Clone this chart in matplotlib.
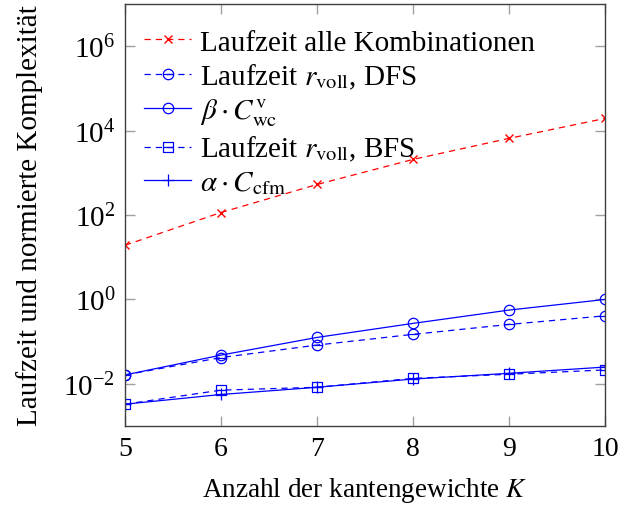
import numpy as np
import matplotlib
matplotlib.use('Agg')
import matplotlib.pyplot as plt
from matplotlib.path import Path

plt.rcParams['font.family'] = 'serif'
plt.rcParams['font.serif'] = ['Liberation Serif', 'DejaVu Serif']
plt.rcParams['mathtext.fontset'] = 'stix'
plt.rcParams['font.size'] = 20

# Anzahl der Kantengewichte
K = [5, 6, 7, 8, 9, 10]

# Laufzeiten und normierte Komplexitaeten
laufzeit_alle = [19.2, 115, 530, 2080, 6560, 19500]
laufzeit_dfs = [0.0163, 0.042, 0.083, 0.149, 0.256, 0.41]
beta_cwc = [0.0163, 0.048, 0.126, 0.271, 0.56, 1.0]
laufzeit_bfs = [0.0033, 0.0071, 0.0083, 0.0135, 0.0169, 0.0214]
alpha_cfm = [0.0033, 0.0056, 0.0083, 0.013, 0.0178, 0.025]

# Marker: Kreis bzw. Quadrat mit waagerechtem Strich
bar = Path([[-1, 0], [1, 0]])
circle_minus = Path.make_compound_path(Path.unit_circle(), bar)
square = Path([[-1, -1], [1, -1], [1, 1], [-1, 1], [-1, -1]],
              [Path.MOVETO, Path.LINETO, Path.LINETO, Path.LINETO, Path.CLOSEPOLY])
square_minus = Path.make_compound_path(square, bar)

fig = plt.figure(figsize=(6.2, 5.06), dpi=100)
ax = fig.add_axes([0.2016, 0.156, 0.7742, 0.834])

dash = (0, (5, 4))
ax.plot(K, laufzeit_alle, color='red', ls=dash, lw=0.9, marker='x', ms=6,
        mew=1.0, label='Laufzeit alle Kombinationen')
ax.plot(K, laufzeit_dfs, color='blue', ls=dash, lw=0.9, marker=circle_minus,
        ms=7.5, mfc='none', mew=0.9, label=r'Laufzeit $r_{\mathrm{voll}}$, DFS')
ax.plot(K, beta_cwc, color='blue', ls='-', lw=0.9, marker='o', ms=7.5,
        mfc='none', mew=0.9, label=r'$\beta\cdot C^{\mathrm{v}}_{\mathrm{wc}}$')
ax.plot(K, laufzeit_bfs, color='blue', ls=dash, lw=0.9, marker=square_minus,
        ms=7.5, mfc='none', mew=0.9, label=r'Laufzeit $r_{\mathrm{voll}}$, BFS')
ax.plot(K, alpha_cfm, color='blue', ls='-', lw=0.9, marker='+', ms=9,
        mew=0.9, label=r'$\alpha\cdot C_{\mathrm{cfm}}$')

ax.set_yscale('log')
ax.set_xlim(5, 10)
ax.set_ylim(1e-3, 1e7)
ax.set_xticks(K)
ax.set_yticks([1e-2, 1e0, 1e2, 1e4, 1e6])
ax.yaxis.set_minor_locator(matplotlib.ticker.NullLocator())
ax.tick_params(direction='in', length=7, width=1, color='#a0a0a0',
               top=True, right=True, pad=7)
ax.tick_params(axis='y', labelsize=21)

for s in ax.spines.values():
    s.set_color('#404040')
    s.set_linewidth(1.0)

ax.set_xlabel(r'Anzahl der kantengewichte $K$', fontsize=19.5, labelpad=10)
ax.set_ylabel('Laufzeit und normierte Komplexität', fontsize=21, labelpad=15)

ax.legend(loc='upper left', frameon=False, fontsize=21, handlelength=1.6,
          borderaxespad=0.2, labelspacing=0.2, handletextpad=0.3,
          borderpad=0.3, bbox_to_anchor=(0.01, 0.975))

fig.savefig('out.png', dpi=100)
